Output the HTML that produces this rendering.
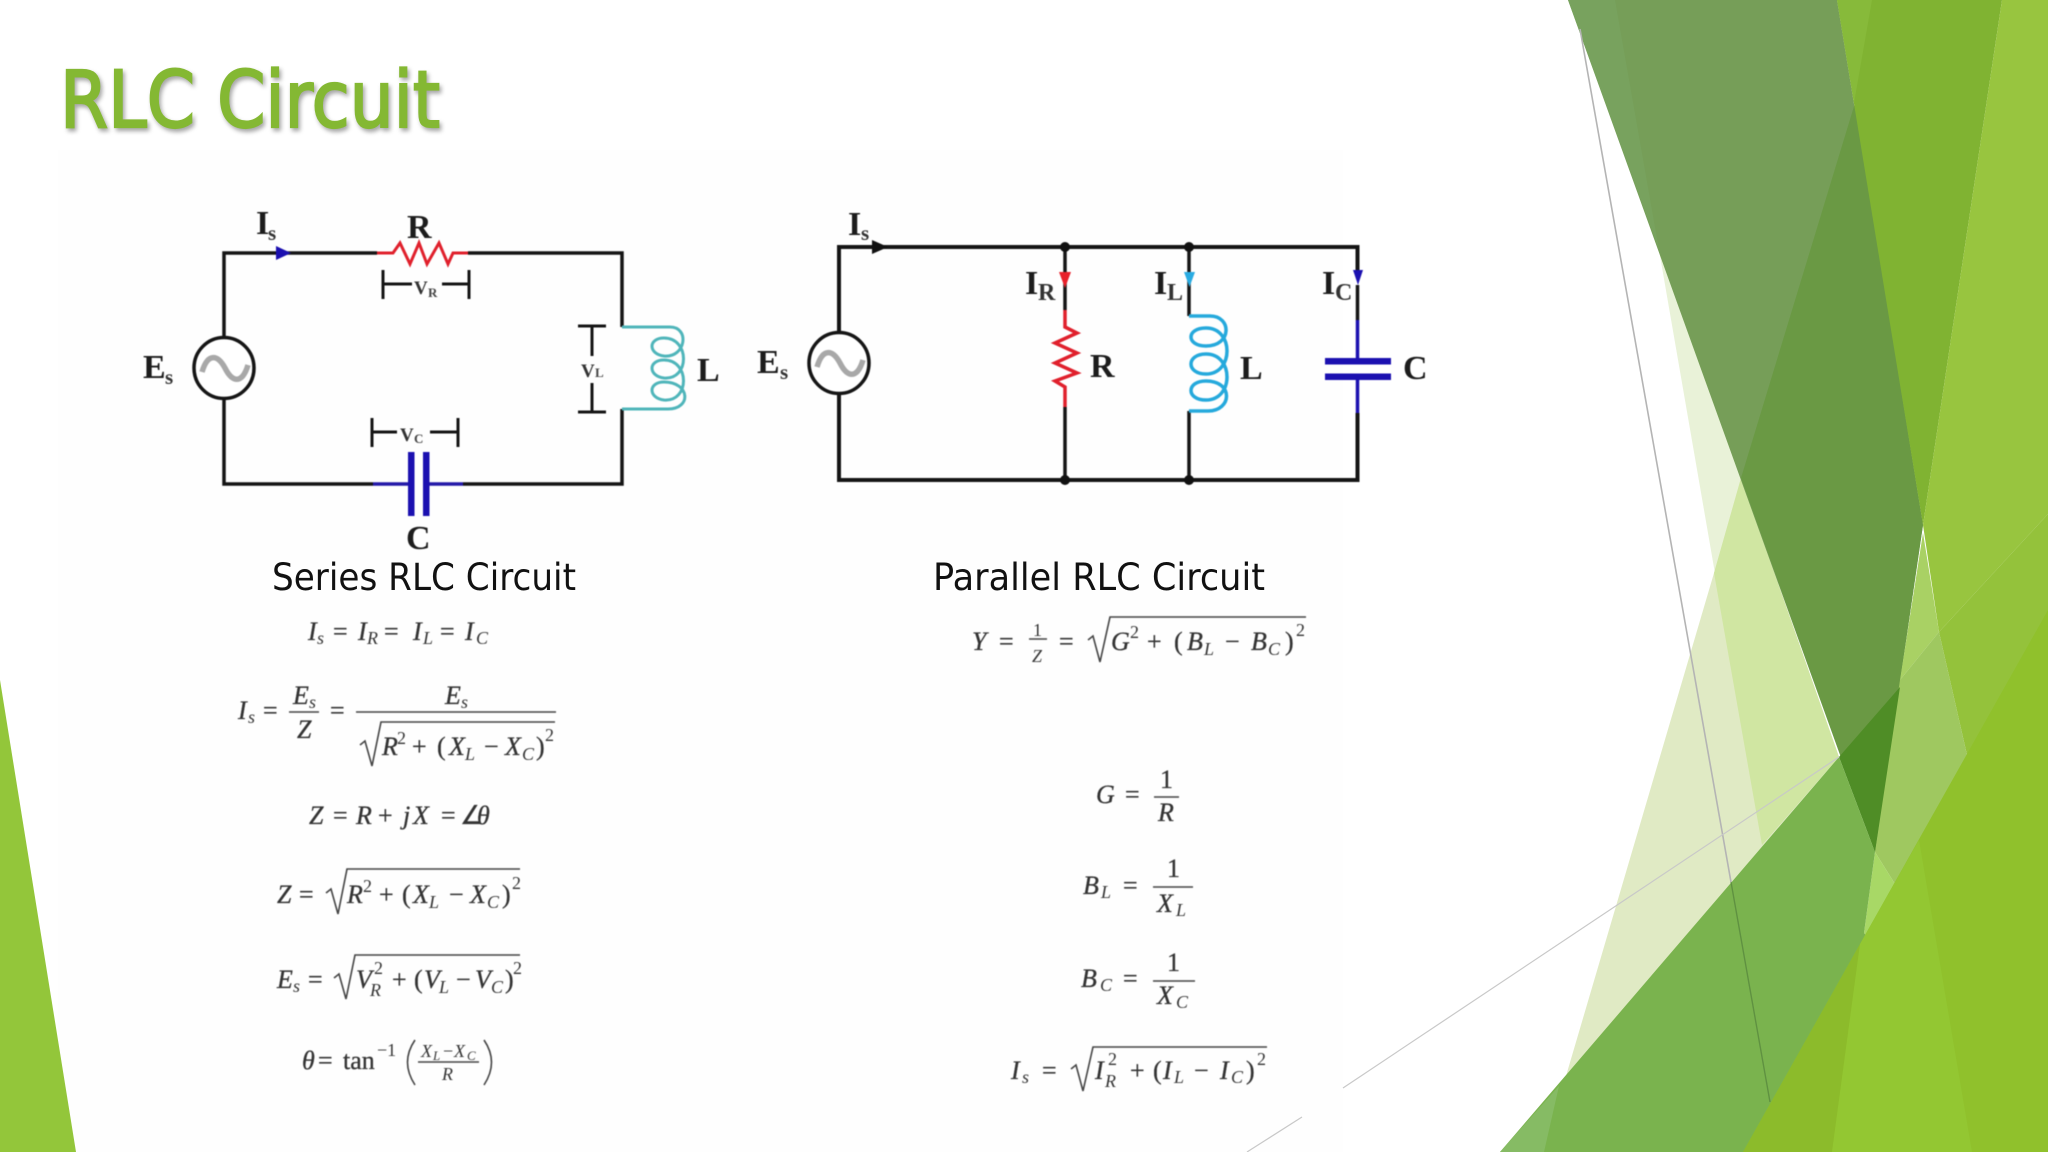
<!DOCTYPE html>
<html lang="en">
<head>
<meta charset="utf-8">
<title>RLC Circuit</title>
<style>
html,body{margin:0;padding:0;background:#fff;width:2048px;height:1152px;overflow:hidden}
svg{display:block}
.b{font-family:"Liberation Serif",serif;font-weight:bold;fill:#1c1c1c;font-size:34px}
.bs{font-family:"Liberation Serif",serif;font-weight:bold;fill:#333;font-size:21px}
.vs{font-family:"Liberation Serif",serif;font-weight:bold;fill:#333;font-size:19px}
.vss{font-family:"Liberation Serif",serif;font-weight:bold;fill:#444;font-size:13px}
.m{font-family:"Liberation Serif",serif;font-style:italic;fill:#333;stroke:#333;stroke-width:.3;font-size:26px}
.r{font-family:"Liberation Serif",serif;fill:#333;stroke:#333;stroke-width:.3;font-size:26px}
.s{font-family:"Liberation Serif",serif;font-style:italic;fill:#333;font-size:18px}
.u{font-family:"Liberation Serif",serif;fill:#333;font-size:18px}
.lab{font-family:"DejaVu Sans",sans-serif;font-size:37px;fill:#111}
.w{fill:none;stroke:#151515;stroke-width:3.5}
.mp{fill:none;stroke:#444;stroke-width:1.6}
.soft{filter:blur(.45px)}
</style>
</head>
<body>
<svg xmlns="http://www.w3.org/2000/svg" width="2048" height="1152" viewBox="0 0 2048 1152">
<rect width="2048" height="1152" fill="#fff"/>
<rect x="58" y="150" width="1285" height="1002" fill="#fefefe"/>

<!-- left corner -->
<polygon points="0,680 76,1152 0,1152" fill="#93c63a"/>

<!-- right decoration -->
<polygon points="1659,250 1741,478 1839,757 1762,845" fill="#e9f2d8"/>
<polygon points="1741,478 1714,573 1566,1076 1839,757" fill="#e0eac4"/>
<polygon points="1741,478 1714,573 1762,845 1839,757" fill="#d0e6a2"/>
<polygon points="1568,0 1837,0 1923,525 1875,852" fill="#769e58"/>
<polygon points="1568,0 1615,0 1659,250" fill="#78a25e"/>
<polygon points="1855,103 1923,525 1875,852 1741,478" fill="#6a9944"/>
<polygon points="1837,0 2002,0 1923,525" fill="#80b332"/>
<polygon points="1837,0 1872,0 1854,103" fill="#87ba3a"/>
<polygon points="2002,0 2048,0 2048,514 1939,632 1923,525" fill="#98c53f"/>
<polygon points="1939,632 2048,514 2048,640 1975,790" fill="#94c23b"/>
<polygon points="1923,533 1939,632 1900,680" fill="#a9d164"/>
<polygon points="1900,680 1939,632 1975,790 1905,900 1875,852" fill="#9fc860"/>
<polygon points="1839,757 1900,687 1875,852" fill="#4f8d26"/>
<polygon points="1875,852 1905,900 1880,950 1864,933" fill="#a8d866"/>
<polygon points="1500,1152 1839,757 1875,852 1864,933 1880,950 1800,1152" fill="#7ab34e"/>
<polygon points="1500,1152 1559,1086 1544,1152" fill="#86bb64"/>
<polygon points="1743,1152 2048,610 2048,1152" fill="#90c12c"/>
<polygon points="1743,1152 1860,944 1832,1152" fill="#8cbb2b"/>
<polygon points="1860,944 1919,840 1972,1152 1832,1152" fill="#93c732"/>
<line x1="1580" y1="29" x2="1731" y2="882" stroke="#b4b4b4" stroke-width="1.6"/>
<line x1="1731" y1="882" x2="1770" y2="1102" stroke="#55843c" stroke-width="1.4" opacity=".7"/>
<line x1="1343" y1="1088" x2="1839" y2="757" stroke="#c8c8c8" stroke-width="1.2"/>
<line x1="1247" y1="1152" x2="1302" y2="1117" stroke="#c8c8c8" stroke-width="1.2"/>

<!-- Title -->
<text x="60" y="127" textLength="380" lengthAdjust="spacingAndGlyphs" font-family="'DejaVu Sans',sans-serif" font-size="78" fill="#84b833" stroke="#84b833" stroke-width="2.2" style="filter:drop-shadow(2px 3px 2px rgba(0,0,0,.35))">RLC Circuit</text>

<!-- Series circuit -->
<g class="soft">
  <path class="w" d="M224,338 V253 H377 M468,253 H622 V327 M622,409 V484 H463 M373,484 H224 V399"/>
  <ellipse cx="224" cy="368" rx="30" ry="30.5" fill="#fff" stroke="#151515" stroke-width="3.5"/>
  <path d="M202,372 C208,352 218,355 225,368 C232,382 242,385 248,365" fill="none" stroke="#a8a8a8" stroke-width="5.5"/>
  <polygon points="276,246 291,253 276,260" fill="#1b0fb0"/>
  <polyline points="377,253 393,253 400,243 410,264 419,243 427,264 439,243 448,264 453,253 468,253" fill="none" stroke="#e0202c" stroke-width="3"/>
  <path d="M622,327 L670,327 C690,327 686,358 664,356 C648,354 648,338 664,338 C690,338 690,380 664,378 C648,376 648,360 664,360 C690,360 690,402 664,400 C648,398 648,382 664,382 C690,382 692,409 668,409 L622,409" fill="none" stroke="#4fb5ba" stroke-width="3"/>
  <path d="M373,484 H411 M426,484 H463" fill="none" stroke="#2419a8" stroke-width="3.5"/>
  <rect x="408" y="452" width="6.5" height="64" fill="#1b10b0"/>
  <rect x="423" y="452" width="6.5" height="64" fill="#1b10b0"/>
  <path class="w" style="stroke-width:3" d="M383,270 V299 M469,270 V299 M383,284 H412 M442,284 H469"/>
  <path class="w" style="stroke-width:3" d="M372,418 V447 M458,418 V447 M372,432 H397 M430,432 H458"/>
  <path class="w" style="stroke-width:3" d="M578,326 H606 M578,412 H606 M592,326 V356 M592,383 V412"/>
  <text class="b" x="256" y="234">I</text><text class="bs" x="268" y="240">s</text>
  <text class="b" x="407" y="238">R</text>
  <text class="b" x="143" y="378">E</text><text class="bs" x="165" y="384">s</text>
  <text class="b" x="697" y="381">L</text>
  <text class="b" x="406" y="549">C</text>
  <text class="vs" x="414" y="294">V</text><text class="vss" x="428" y="297">R</text>
  <text class="vs" x="581" y="377">V</text><text class="vss" x="595" y="377">L</text>
  <text class="vs" x="400" y="441">V</text><text class="vss" x="414" y="443">C</text>
</g>

<!-- Parallel circuit -->
<g class="soft">
  <path class="w" style="stroke-width:4" d="M839,332 V247 H1357.5 V270 M839,394 V480 H1357.5 V413"/>
  <ellipse cx="839" cy="363" rx="30" ry="30.5" fill="#fff" stroke="#151515" stroke-width="3.5"/>
  <path d="M817,367 C823,347 833,350 840,363 C847,377 857,380 863,360" fill="none" stroke="#a8a8a8" stroke-width="5.5"/>
  <polygon points="872,240 888,247 872,254" fill="#111"/>
  <path class="w" d="M1065,247 V310 M1065,407 V480 M1189,247 V316 M1189,411 V480 M1357.5,285 V320"/>
  <circle cx="1065" cy="247" r="5" fill="#111"/><circle cx="1189" cy="247" r="5" fill="#111"/>
  <circle cx="1065" cy="480" r="5" fill="#111"/><circle cx="1189" cy="480" r="5" fill="#111"/>
  <polygon points="1059,272 1071,272 1065,288" fill="#e8202a"/>
  <polygon points="1184,272 1195,272 1189.5,287" fill="#29abe2"/>
  <polygon points="1353,270 1363,270 1358,285" fill="#1b10b0"/>
  <polyline points="1065,310 1065,327 1077,333 1055,343 1077,353 1055,363 1077,373 1055,381 1065,387 1065,407" fill="none" stroke="#e0202c" stroke-width="3.5"/>
  <path d="M1189,316 L1210,316 C1232,316 1232,346 1206,346 C1186,346 1186,328 1206,328 C1234,328 1234,374 1206,374 C1186,374 1186,354 1206,354 C1234,354 1234,400 1206,400 C1186,400 1186,381 1206,381 C1234,381 1232,411 1208,411 L1189,411" fill="none" stroke="#25a9dc" stroke-width="3.5"/>
  <path d="M1357.5,320 V360 M1357.5,378 V413" fill="none" stroke="#1b10b0" stroke-width="3.5"/>
  <rect x="1325" y="358" width="66" height="6.5" fill="#1b10b0"/>
  <rect x="1325" y="373.5" width="66" height="6.5" fill="#1b10b0"/>
  <text class="b" x="848" y="235">I</text><text class="bs" x="861" y="240">s</text>
  <text class="b" x="757" y="373">E</text><text class="bs" x="780" y="379">s</text>
  <text class="b" x="1025" y="294">I</text><text class="bs" x="1038" y="300" style="font-size:24px">R</text>
  <text class="b" x="1154" y="294">I</text><text class="bs" x="1167" y="300" style="font-size:24px">L</text>
  <text class="b" x="1322" y="294">I</text><text class="bs" x="1335" y="300" style="font-size:24px">C</text>
  <text class="b" x="1090" y="377">R</text>
  <text class="b" x="1240" y="379">L</text>
  <text class="b" x="1403" y="379">C</text>
</g>

<text class="lab" x="272" y="590" textLength="304" lengthAdjust="spacingAndGlyphs">Series RLC Circuit</text>
<text class="lab" x="933" y="590" textLength="332" lengthAdjust="spacingAndGlyphs">Parallel RLC Circuit</text>

<!-- Series equations -->
<g class="soft">
  <text class="m" x="308" y="640">I</text><text class="s" x="317" y="644">s</text><text class="r" x="333" y="640">=</text>
  <text class="m" x="358" y="640">I</text><text class="s" x="367" y="644">R</text><text class="r" x="384" y="640">=</text>
  <text class="m" x="413" y="640">I</text><text class="s" x="423" y="644">L</text><text class="r" x="440" y="640">=</text>
  <text class="m" x="465" y="640">I</text><text class="s" x="476" y="644">C</text>

  <text class="m" x="238" y="719">I</text><text class="s" x="248" y="723">s</text><text class="r" x="263" y="719">=</text>
  <text class="m" x="293" y="704">E</text><text class="s" x="309" y="708">s</text>
  <line x1="289" y1="712" x2="319" y2="712" class="mp"/>
  <text class="m" x="297" y="738">Z</text><text class="r" x="330" y="719">=</text>
  <text class="m" x="445" y="704">E</text><text class="s" x="461" y="708">s</text>
  <line x1="356" y1="712" x2="556" y2="712" class="mp"/>
  <path class="mp" d="M360,745 L365,741 L372,766 L381,722 H555"/>
  <text class="m" x="382" y="755">R</text><text class="u" x="397" y="744">2</text><text class="r" x="412" y="755">+</text>
  <text class="r" x="437" y="755">(</text><text class="m" x="449" y="755">X</text><text class="s" x="465" y="760">L</text>
  <text class="r" x="484" y="755">−</text><text class="m" x="505" y="755">X</text><text class="s" x="522" y="760">C</text>
  <text class="r" x="536" y="755">)</text><text class="u" x="545" y="741">2</text>

  <text class="m" x="309" y="824">Z</text><text class="r" x="333" y="824">=</text><text class="m" x="356" y="824">R</text>
  <text class="r" x="378" y="824">+</text><text class="m" x="403" y="824">j</text><text class="m" x="413" y="824">X</text>
  <text class="r" x="441" y="824">=</text><text class="r" x="460" y="824">∠</text><text class="m" x="477" y="824">θ</text>

  <text class="m" x="277" y="903">Z</text><text class="r" x="299" y="903">=</text>
  <path class="mp" d="M326,893 L331,889 L338,914 L347,869 H520"/>
  <text class="m" x="347" y="903">R</text><text class="u" x="363" y="892">2</text><text class="r" x="379" y="903">+</text>
  <text class="r" x="402" y="903">(</text><text class="m" x="413" y="903">X</text><text class="s" x="429" y="908">L</text>
  <text class="r" x="449" y="903">−</text><text class="m" x="470" y="903">X</text><text class="s" x="487" y="908">C</text>
  <text class="r" x="502" y="903">)</text><text class="u" x="512" y="889">2</text>

  <text class="m" x="277" y="988">E</text><text class="s" x="293" y="992">s</text><text class="r" x="308" y="988">=</text>
  <path class="mp" d="M334,978 L339,974 L346,999 L355,955 H520"/>
  <text class="m" x="356" y="988">V</text><text class="u" x="374" y="974">2</text><text class="s" x="370" y="996">R</text>
  <text class="r" x="392" y="988">+</text><text class="r" x="414" y="988">(</text><text class="m" x="424" y="988">V</text><text class="s" x="439" y="993">L</text>
  <text class="r" x="456" y="988">−</text><text class="m" x="475" y="988">V</text><text class="s" x="491" y="993">C</text>
  <text class="r" x="505" y="988">)</text><text class="u" x="513" y="974">2</text>

  <text class="m" x="302" y="1069">θ</text><text class="r" x="318" y="1069">=</text>
  <text class="r" x="343" y="1069">tan</text><text class="u" x="377" y="1056">−1</text>
  <path class="mp" d="M415,1040 Q400,1062 415,1085 M484,1040 Q499,1062 484,1085"/>
  <text class="s" x="421" y="1057">X</text><text class="u" x="433" y="1060" style="font-size:13px;font-style:italic">L</text>
  <text class="u" x="443" y="1057">−</text><text class="s" x="454" y="1057">X</text><text class="u" x="467" y="1060" style="font-size:13px;font-style:italic">C</text>
  <line x1="418" y1="1062" x2="479" y2="1062" class="mp"/>
  <text class="s" x="442" y="1080">R</text>
</g>

<!-- Parallel equations -->
<g class="soft">
  <text class="m" x="972" y="650">Y</text><text class="r" x="999" y="650">=</text>
  <text class="u" x="1033" y="636">1</text><line x1="1029" y1="639" x2="1047" y2="639" class="mp"/><text class="s" x="1032" y="662">Z</text>
  <text class="r" x="1059" y="650">=</text>
  <path class="mp" d="M1088,640 L1093,636 L1100,662 L1110,617 H1306"/>
  <text class="m" x="1111" y="650">G</text><text class="u" x="1130" y="638">2</text><text class="r" x="1147" y="650">+</text>
  <text class="r" x="1174" y="650">(</text><text class="m" x="1187" y="650">B</text><text class="s" x="1204" y="655">L</text>
  <text class="r" x="1225" y="650">−</text><text class="m" x="1251" y="650">B</text><text class="s" x="1268" y="655">C</text>
  <text class="r" x="1285" y="650">)</text><text class="u" x="1296" y="636">2</text>

  <text class="m" x="1096" y="803">G</text><text class="r" x="1125" y="803">=</text>
  <text class="r" x="1160" y="788">1</text><line x1="1154" y1="797" x2="1179" y2="797" class="mp"/><text class="m" x="1158" y="821">R</text>

  <text class="m" x="1083" y="894">B</text><text class="s" x="1101" y="898">L</text><text class="r" x="1123" y="894">=</text>
  <text class="r" x="1167" y="877">1</text><line x1="1153" y1="887" x2="1193" y2="887" class="mp"/>
  <text class="m" x="1157" y="912">X</text><text class="s" x="1176" y="916">L</text>

  <text class="m" x="1081" y="987">B</text><text class="s" x="1100" y="991">C</text><text class="r" x="1123" y="987">=</text>
  <text class="r" x="1167" y="971">1</text><line x1="1153" y1="981" x2="1195" y2="981" class="mp"/>
  <text class="m" x="1157" y="1004">X</text><text class="s" x="1176" y="1008">C</text>

  <text class="m" x="1011" y="1079">I</text><text class="s" x="1022" y="1083">s</text><text class="r" x="1042" y="1079">=</text>
  <path class="mp" d="M1071,1069 L1076,1065 L1083,1091 L1093,1047 H1267"/>
  <text class="m" x="1095" y="1079">I</text><text class="u" x="1108" y="1065">2</text><text class="s" x="1105" y="1087">R</text>
  <text class="r" x="1130" y="1079">+</text><text class="r" x="1153" y="1079">(</text><text class="m" x="1163" y="1079">I</text><text class="s" x="1174" y="1083">L</text>
  <text class="r" x="1194" y="1079">−</text><text class="m" x="1220" y="1079">I</text><text class="s" x="1231" y="1083">C</text>
  <text class="r" x="1246" y="1079">)</text><text class="u" x="1257" y="1065">2</text>
</g>
</svg>
</body>
</html>
